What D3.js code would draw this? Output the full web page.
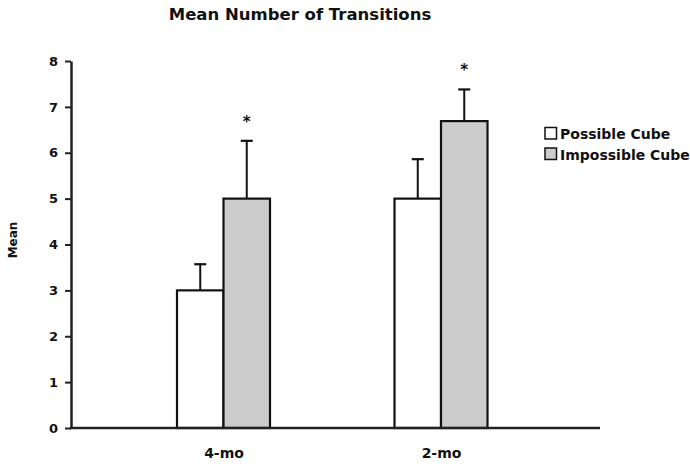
<!DOCTYPE html>
<html><head><meta charset="utf-8">
<script src="https://cdn.jsdelivr.net/npm/d3@7"></script>
<style>body{margin:0;background:#fff}svg{display:block}text{font-family:"DejaVu Sans",Verdana,sans-serif;font-weight:bold;fill:#111}</style>
</head><body>
<svg id="c" width="690" height="464"></svg>
<script>
const groups = ["4-mo", "2-mo"];
const series = ["Possible Cube", "Impossible Cube"];
const colors = ["#ffffff", "#cccccc"];
const means = [[3.0, 5.0], [5.0, 6.69]];
const errors = [[0.57, 1.26], [0.86, 0.69]];
const significant = [[false, true], [false, true]];
const yTicks = [0, 1, 2, 3, 4, 5, 6, 7, 8];

const svg = d3.select("#c");
const y = d3.scaleLinear().domain([0, 8]).range([428, 61]);
const x0 = d3.scalePoint().domain(groups).range([223.5, 441]);
const barW = 46.5;
const x1 = d3.scaleBand().domain(series).range([-barW, barW]);

// bars
const g = svg.append("g");
groups.forEach((grp, gi) => {
  series.forEach((s, si) => {
    const bx = x0(grp) + x1(s);
    g.append("rect").attr("x", bx).attr("y", y(means[gi][si]))
      .attr("width", x1.bandwidth()).attr("height", y(0) - y(means[gi][si]))
      .attr("fill", colors[si]).attr("stroke", "#111").attr("stroke-width", 2.2);
    const cx = bx + x1.bandwidth() / 2;
    const top = y(means[gi][si] + errors[gi][si]);
    g.append("line").attr("x1", cx).attr("x2", cx).attr("y1", y(means[gi][si])).attr("y2", top)
      .attr("stroke", "#111").attr("stroke-width", 2);
    g.append("line").attr("x1", cx - 6).attr("x2", cx + 6).attr("y1", top).attr("y2", top)
      .attr("stroke", "#111").attr("stroke-width", 2.2);
    if (significant[gi][si]) {
      g.append("text").attr("x", cx).attr("y", top - 14).attr("text-anchor", "middle")
        .attr("font-size", 15).text("*");
    }
  });
});

// y axis
const yAxis = svg.append("g").attr("transform", "translate(71,0)")
  .call(d3.axisLeft(y).tickValues(yTicks).tickSize(6).tickPadding(7).tickSizeOuter(0));
yAxis.select(".domain").attr("stroke", "#222").attr("stroke-width", 2.5);
yAxis.selectAll(".tick line").attr("stroke", "#222").attr("stroke-width", 2);
yAxis.selectAll(".tick text").attr("font-size", 13).attr("font-family", "DejaVu Sans").attr("font-weight", "bold").attr("fill", "#111");

// x axis
const xAxis = svg.append("g").attr("transform", "translate(0,428)")
  .call(d3.axisBottom(x0).tickSize(0).tickPadding(20));
xAxis.select(".domain").attr("d", "M70,0H600").attr("stroke", "#222").attr("stroke-width", 2.5);
xAxis.selectAll(".tick text").attr("font-size", 14).attr("font-family", "DejaVu Sans").attr("font-weight", "bold").attr("fill", "#111");

// title
svg.append("text").attr("x", 300).attr("y", 20).attr("text-anchor", "middle")
  .attr("font-size", 16.5).text("Mean Number of Transitions");
// y label
svg.append("text").attr("transform", "translate(17,240) rotate(-90)").attr("text-anchor", "middle")
  .attr("font-size", 12).text("Mean");

// legend
series.forEach((s, si) => {
  const ly = 127.5 + si * 20.5;
  svg.append("rect").attr("x", 545).attr("y", ly).attr("width", 11.5).attr("height", 11.5)
    .attr("fill", colors[si]).attr("stroke", "#111").attr("stroke-width", 1.5);
  svg.append("text").attr("x", 560).attr("y", ly + 11.5).attr("font-size", 14).text(s);
});
</script>
</body></html>
